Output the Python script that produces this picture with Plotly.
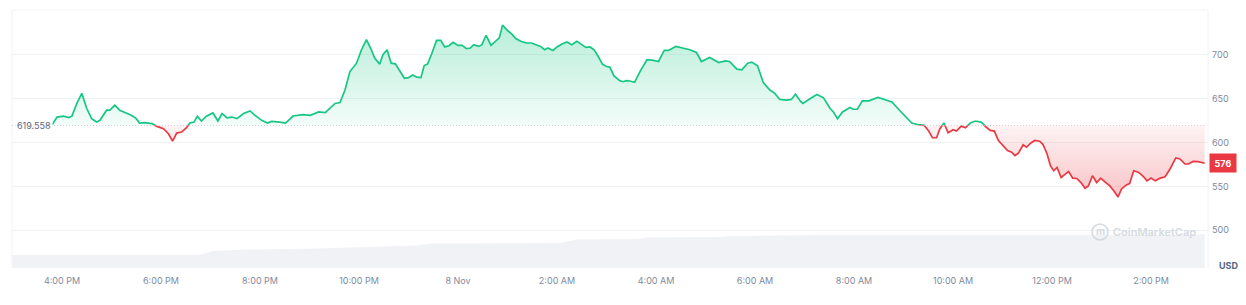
import pandas as pd
import plotly.graph_objects as go

# ---------------- data ----------------
START = "2024-11-07 15:00"
BASE = 619.558

PRICE_MIN = [48, 54, 62, 68, 72, 78, 84, 90, 96, 102, 106, 114, 118, 124, 130, 136, 144, 150, 154, 160,
             169, 175, 183, 189, 194, 199, 205, 211, 215, 220, 224, 229, 235, 243, 249, 254, 260, 266, 272, 280,
             288, 294, 302, 309, 314, 324, 331, 340, 352, 361, 371, 379, 385, 391, 397,
             403, 409, 417, 423, 429, 434, 439, 445, 449, 454, 459, 464, 469, 475, 480, 485, 490, 495, 499, 503,
             508, 514, 519, 524, 529, 534, 540, 545, 550, 555, 559, 565, 569, 574, 580, 586, 590, 594, 600, 605,
             610, 616, 623, 629, 635, 640, 645, 649, 655, 660, 666, 672, 678, 684, 690, 695, 700, 705, 710, 715,
             720, 724, 729, 736, 740, 744, 748,
             754, 761, 769, 777, 783, 790, 795, 804, 813, 821, 829, 835, 845, 856, 864, 869, 878, 884, 891, 896,
             903, 910, 918, 924, 930, 938, 944, 949, 955, 958, 967, 975, 983, 991, 995, 1000, 1006, 1015, 1019, 1024,
             1030, 1038, 1049, 1060, 1066, 1075, 1083, 1090, 1098, 1105,
             1110, 1115, 1120, 1124, 1129, 1134, 1140, 1144, 1150, 1155, 1161, 1167, 1174, 1179, 1185, 1190, 1195,
             1201, 1206, 1211, 1215, 1219, 1225, 1229, 1234, 1239, 1245, 1249, 1254, 1258, 1262, 1266, 1271, 1276,
             1280, 1285, 1290, 1295, 1300, 1304, 1309, 1314, 1319, 1324, 1330, 1335, 1340, 1344, 1350, 1354, 1359,
             1365, 1371, 1375, 1380, 1385, 1391, 1397, 1403, 1410, 1415, 1421, 1425, 1431, 1437, 1445]

PRICES = [620.3, 629.0, 630.0, 628.4, 630.0, 644.5, 656.0, 638.7, 627.2, 623.3, 625.3, 636.8, 636.8, 642.5, 636.8,
          634.0, 631.0, 627.2, 622.2, 622.6,
          621.5, 618.4, 615.7, 610.0, 601.5, 610.7, 611.9, 616.9, 622.2, 623.3, 630.0, 624.5, 630.0, 633.7, 624.5,
          633.0, 628.0, 629.0, 627.2, 633.0,
          636.0, 631.0, 625.3, 622.2, 624.1, 623.3, 622.2, 630.2, 631.8, 631.0, 634.8, 634.0, 638.7, 644.5, 645.6,
          659.8, 680.8, 690.4, 705.7, 717.2, 707.7, 696.2, 689.3, 700.0, 705.7, 690.4, 689.6, 681.6, 673.2, 673.9,
          677.0, 674.4, 673.9, 687.7, 689.3,
          700.8, 716.4, 716.4, 708.9, 710.3, 714.1, 710.7, 710.7, 706.9, 707.7, 711.5, 709.5, 711.5, 722.2, 710.7,
          716.4, 719.2, 733.7, 727.6, 723.8,
          718.4, 715.3, 713.4, 713.4, 711.5, 709.5, 705.7, 707.7, 704.9, 708.9, 712.3, 714.6, 711.5, 715.3, 711.5,
          708.4, 708.9, 705.7, 698.0, 689.3,
          686.6, 685.9, 675.9, 670.5, 669.3, 670.5, 670.1,
          668.6, 681.6, 694.3, 693.5, 692.3, 704.9, 704.9, 709.5, 707.7, 705.7, 702.6, 692.3, 696.9, 691.1, 693.1,
          692.3, 683.6, 682.8, 690.4, 691.6,
          687.4, 668.2, 659.8, 656.0, 649.1, 648.3, 649.1, 655.2, 647.1, 644.5, 650.2, 654.8, 650.9, 638.7, 634.8,
          627.2, 634.8, 639.9, 637.9, 637.9,
          647.5, 647.5, 651.4, 648.3, 646.3, 636.8, 628.4, 622.2, 620.3, 619.5,
          613.8, 605.4, 605.4, 615.7, 622.2, 611.1, 614.6, 613.0, 618.7, 616.9, 622.2, 624.5, 623.3, 618.4, 613.8,
          613.0, 602.3,
          596.6, 590.8, 588.9, 585.1, 587.7, 597.4, 594.6, 599.2, 602.3, 601.5, 597.7, 587.0, 573.6, 567.8, 571.6,
          560.1, 564.0,
          567.0, 559.4, 559.0, 554.4, 547.9, 550.6, 562.1, 554.4, 559.4, 555.2, 550.6, 544.8, 537.9, 546.8, 551.7,
          553.2, 567.8,
          565.9, 560.9, 556.3, 559.4, 556.3, 559.4, 560.9, 569.8, 582.4, 581.3, 575.5, 575.5, 578.5, 578.2, 576.4]

VOL_MIN = [0, 227, 243, 288, 348, 385, 446, 490, 510, 664, 684, 761, 769, 858, 873, 975, 979, 1427, 1445]
VOLUME = [13, 13, 17, 18.5, 19, 20, 22, 22.5, 24.5, 25, 28.5, 29, 30.5, 31, 32, 32.5, 33, 33, 34]

TICK_MIN = [60, 180, 300, 420, 540, 660, 780, 900, 1020, 1140, 1260, 1380]
TICK_TEXT = ["4:00 PM", "6:00 PM", "8:00 PM", "10:00 PM", "8 Nov", "2:00 AM", "4:00 AM",
             "6:00 AM", "8:00 AM", "10:00 AM", "12:00 PM", "2:00 PM"]
Y_TICKS = [500, 550, 600, 650, 700]

# ---------------- layout constants ----------------
W, H = 1246, 305
M_L, M_R, M_T, M_B = 12, 38, 10, 37
PLOT_H = H - M_T - M_B
Y_LO, Y_HI = 457, 751
SPLIT = (BASE - Y_LO) / (Y_HI - Y_LO)

GREEN = "#16c784"
RED = "#ea3943"
GRID = "#eff2f5"
TXT = "#808a9d"
DARK = "#58667e"
WM = "#d5dae1"
FONT = "Inter, Roboto, Arial, sans-serif"

t0 = pd.Timestamp(START)
tx = [t0 + pd.Timedelta(minutes=m) for m in PRICE_MIN]
vx = [t0 + pd.Timedelta(minutes=m) for m in VOL_MIN]
tick_x = [t0 + pd.Timedelta(minutes=m) for m in TICK_MIN]

fig = go.Figure()

# volume (overlaying lower subplot)
fig.add_trace(go.Scatter(x=vx, y=VOLUME, xaxis="x", yaxis="y3", mode="lines",
                         line=dict(width=0, color="#f0f2f5", shape="linear"),
                         fill="tozeroy", fillcolor="#f0f2f5", hoverinfo="skip"))

# green part (upper subplot, clipped at baseline)
fig.add_trace(go.Scatter(x=tx, y=PRICES, xaxis="x", yaxis="y", mode="lines",
                         line=dict(color=GREEN, width=1.7),
                         fill="tozeroy",
                         fillgradient=dict(type="vertical", start=BASE, stop=max(PRICES),
                                           colorscale=[[0, "rgba(22,199,132,0.05)"],
                                                       [1, "rgba(22,199,132,0.30)"]]),
                         hoverinfo="skip"))

# red part (lower subplot, clipped at baseline)
fig.add_trace(go.Scatter(x=tx, y=[BASE] * len(tx), xaxis="x", yaxis="y2", mode="lines",
                         line=dict(width=0, color="rgba(0,0,0,0)"), hoverinfo="skip"))
fig.add_trace(go.Scatter(x=tx, y=PRICES, xaxis="x", yaxis="y2", mode="lines",
                         line=dict(color=RED, width=1.7),
                         fill="tonexty",
                         fillgradient=dict(type="vertical", start=min(PRICES), stop=BASE,
                                           colorscale=[[0, "rgba(234,57,67,0.30)"],
                                                       [1, "rgba(234,57,67,0.06)"]]),
                         hoverinfo="skip"))

x_range = [t0 - pd.Timedelta(minutes=0.6), t0 + pd.Timedelta(minutes=1449)]

yaxis_common = dict(side="right", anchor="x", showgrid=True, gridcolor=GRID, gridwidth=1,
                    zeroline=False, showline=False, ticks="", fixedrange=True,
                    tickfont=dict(family=FONT, size=9, color=TXT), automargin=False,
                    ticklabelstandoff=3)

fig.update_layout(
    width=W, height=H, template="none",
    paper_bgcolor="white", plot_bgcolor="rgba(0,0,0,0)",
    margin=dict(l=M_L, r=M_R, t=M_T, b=M_B),
    showlegend=False, hovermode=False,
    xaxis=dict(type="date", range=x_range, anchor="y2", showgrid=False, zeroline=False,
               showline=False, ticks="", tickvals=tick_x, ticktext=TICK_TEXT,
               tickfont=dict(family=FONT, size=9, color=TXT), automargin=False,
               ticklabelstandoff=6),
    yaxis=dict(domain=[SPLIT, 1], range=[BASE, Y_HI],
               tickvals=[v for v in Y_TICKS if v > BASE], **yaxis_common),
    yaxis2=dict(domain=[0, SPLIT], range=[Y_LO, BASE],
                tickvals=[v for v in Y_TICKS if v < BASE], **yaxis_common),
    yaxis3=dict(overlaying="y2", range=[0, SPLIT * PLOT_H], visible=False, fixedrange=True),
)

# frame lines (top, left, right) and baseline
fig.add_shape(type="line", xref="paper", yref="paper", x0=0, x1=1, y0=1, y1=1,
              line=dict(color=GRID, width=1), layer="below")
fig.add_shape(type="line", xref="paper", yref="paper", x0=0, x1=0, y0=0, y1=1,
              line=dict(color=GRID, width=1), layer="below")
fig.add_shape(type="line", xref="paper", yref="paper", x0=1, x1=1, y0=0, y1=1,
              line=dict(color=GRID, width=1), layer="below")
fig.add_shape(type="line", xref="paper", yref="y2", x0=0, x1=0.9985, y0=BASE, y1=BASE,
              line=dict(color="#b9c0ca", width=1, dash="1px,2px"), layer="above")

# watermark logo ring
fig.add_shape(type="circle", xref="paper", yref="paper", xsizemode="pixel", ysizemode="pixel",
              xanchor=1, yanchor=36 / PLOT_H, x0=-116, x1=-100, y0=-8, y1=8,
              line=dict(color=WM, width=1.6))
fig.add_annotation(x=1, xref="paper", y=36 / PLOT_H, yref="paper", text="m",
                   showarrow=False, xanchor="center", yanchor="middle", xshift=-108, yshift=1,
                   font=dict(family=FONT, size=10, color=WM, weight=700))

last = PRICES[-1]
fig.add_annotation(x=1, xref="paper", y=last, yref="y2" if last < BASE else "y",
                   text=f"<b>{round(last)}</b>", showarrow=False, xanchor="left", yanchor="middle",
                   xshift=1, bgcolor=RED, font=dict(family=FONT, size=9, color="white"),
                   width=22, height=14, borderpad=2)
fig.add_annotation(x=0, xref="paper", y=BASE, yref="y2", text=f"{BASE}", showarrow=False,
                   xanchor="left", yanchor="middle", xshift=3, bgcolor="white", borderpad=1,
                   font=dict(family=FONT, size=9, color=DARK))
fig.add_annotation(x=1, xref="paper", y=0, yref="paper", text="<b>USD</b>", showarrow=False,
                   xanchor="left", yanchor="middle", xshift=9, yshift=3,
                   font=dict(family=FONT, size=9, color=DARK))
fig.add_annotation(x=1, xref="paper", y=36 / PLOT_H, yref="paper", text="CoinMarketCap",
                   showarrow=False, xanchor="right", yanchor="middle", xshift=-10,
                   font=dict(family=FONT, size=11, color=WM, weight=600))

fig.write_html("out.html")
